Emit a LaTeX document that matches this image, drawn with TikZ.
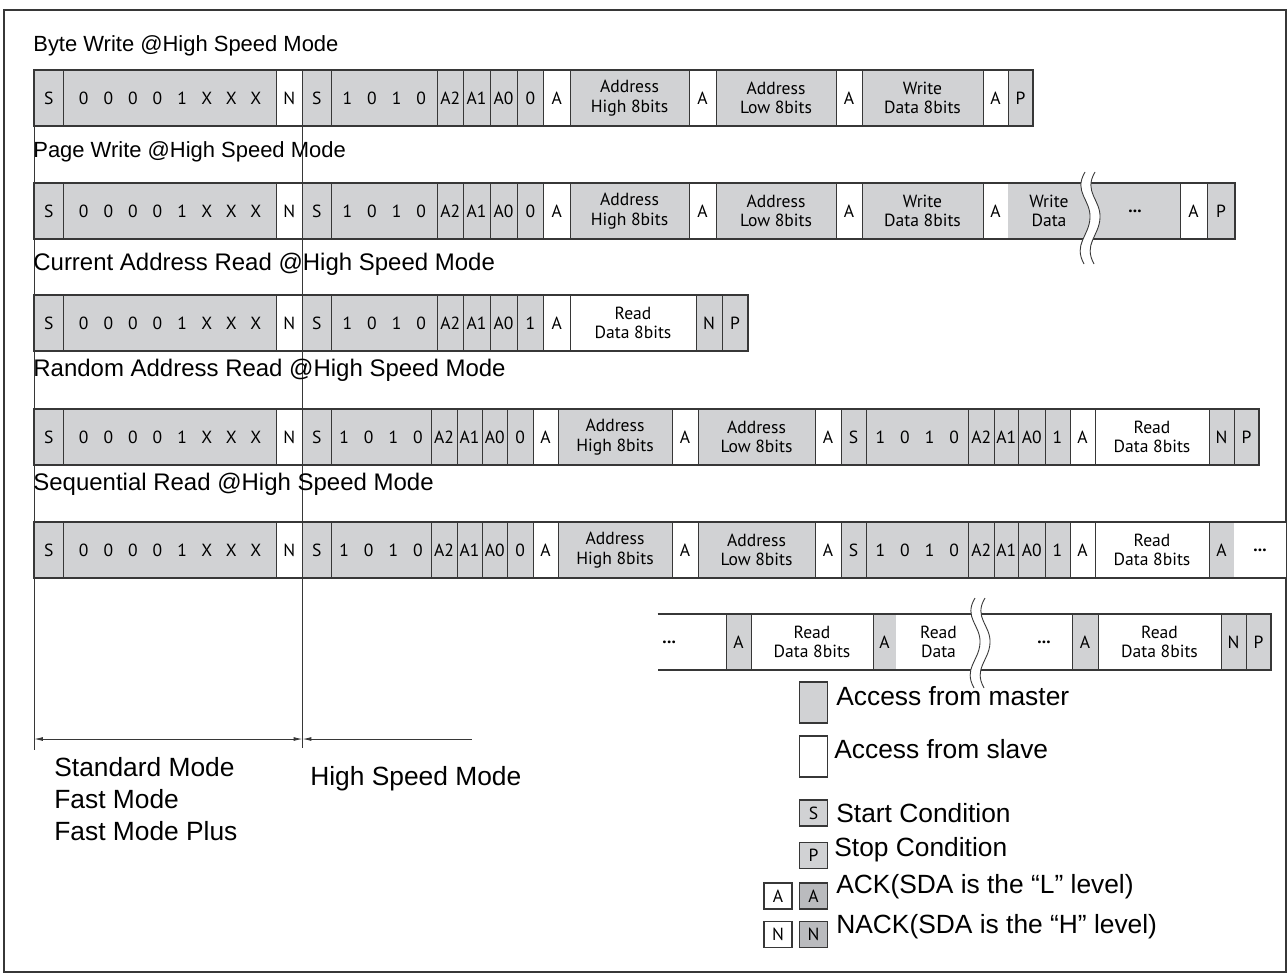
\documentclass[tikz,border=0pt]{standalone}
\usepackage{fontspec}
\setmainfont{Liberation Sans}
\newfontfamily\cellfont{PT Sans}
\usetikzlibrary{arrows.meta}

\definecolor{mgray}{RGB}{209,210,212}
\definecolor{dgray}{RGB}{186,187,190}
\definecolor{edge}{RGB}{55,55,55}

\tikzset{
  cell/.style={draw=edge, line width=0.45pt, inner sep=0pt, minimum height=56*0.02cm,
    align=center, font=\cellfont\fontsize{10}{11}\selectfont},
  mst/.style={fill=mgray}, slv/.style={fill=white},
  mstx/.style={fill=mgray, draw=none}, slvx/.style={fill=white, draw=none},
  barline/.style={draw=edge, line width=1.1pt},
  title/.style={anchor=west, inner sep=0pt, font=\fontsize{12.5}{15}\selectfont},
  wtitle/.style={title, font=\fontsize{13.65}{16}\selectfont},
  label/.style={anchor=west, inner sep=0pt, align=left, font=\fontsize{15}{18.2}\selectfont},
  keybox/.style={draw=edge, line width=0.8pt, inner sep=0pt, minimum width=28*0.02cm,
    minimum height=26*0.02cm, font=\cellfont\fontsize{10}{11}\selectfont},
}

\newcommand\bits[1]{\foreach \c in {#1}{\makebox[14pt]{\c}}}
% one frame of cells: name, top, list of xstart/xend/style/text
\newcommand\msgrow[3]{%
  \foreach \xa/\xb/\fc/\txt [count=\k] in {#3}
    \node[cell, \fc, minimum width={(\xb-\xa)*0.02cm}] (#1-\k) at ({(\xa+\xb)/2}, #2+28) {\txt};
}
% broken-bar mark: x, top, height
\newcommand\cut[3]{%
  \begin{scope}[shift={(#1,#2)}, yscale=#3/100]
    \fill[white] (4,0) .. controls (-8,22) and (10,30) .. (9,50) .. controls (8,70) and (-8,78) .. (3,100)
      -- (13,100) .. controls (2,78) and (18,70) .. (19,50) .. controls (20,30) and (2,22) .. (14,0) -- cycle;
    \draw[edge, line width=0.5pt] (4,0) .. controls (-8,22) and (10,30) .. (9,50) .. controls (8,70) and (-8,78) .. (3,100);
    \draw[edge, line width=0.5pt] (14,0) .. controls (2,22) and (20,30) .. (19,50) .. controls (18,70) and (2,78) .. (13,100);
  \end{scope}}

\begin{document}
\begin{tikzpicture}[x=0.02cm, y=-0.02cm]
  \useasboundingbox (0,0) rectangle (1287,978);
  \draw[edge, line width=0.85pt] (4,10) rectangle (1286,972);

  % mode borders, under the frames
  \coordinate (stdtop) at (34,127);
  \coordinate (stdbot) at (34,750);
  \coordinate (hstop) at (302.5,127);
  \coordinate (hsbot) at (302.5,748);
  \coordinate (hsend) at (472,739);
  \draw[edge, line width=0.5pt] (stdtop) -- (stdbot);
  \draw[edge, line width=0.5pt] (hstop) -- (hsbot);

  \node[title] (t1) at (33,46) {Byte Write @High Speed Mode};
  \node[title] (t2) at (33,152) {Page Write @High Speed Mode};
  \node[wtitle] (t3) at (33,264) {Current Address Read @High Speed Mode};
  \node[wtitle] (t4) at (33,370) {Random Address Read @High Speed Mode};
  \node[wtitle] (t5) at (33,484) {Sequential Read @High Speed Mode};

  % byte write
  \msgrow{r1}{70}{34/63.6/mst/S, 63.6/276/mst/{\bits{0,0,0,0,1,X,X,X}}, 276/302.5/slv/N, 302.5/331/mst/S,
    331/437.5/mst/{\bits{1,0,1,0}}, 437.5/463/mst/A2, 463/490/mst/A1, 490/517/mst/A0, 517/543.6/mst/0,
    543.6/570/slv/A, 570/689/mst/{Address\\High 8bits}, 689/716/slv/A, 716/836/mst/{Address\\Low 8bits},
    836/862/slv/A, 862/983/mst/{Write\\Data 8bits}, 983/1008/slv/A, 1008/1033/mst/P}
  \draw[barline] (r1-1.north west) rectangle (r1-17.south east);

  % page write
  \msgrow{r2}{183}{34/63.6/mst/S, 63.6/276/mst/{\bits{0,0,0,0,1,X,X,X}}, 276/302.5/slv/N, 302.5/331/mst/S,
    331/437.5/mst/{\bits{1,0,1,0}}, 437.5/463/mst/A2, 463/490/mst/A1, 490/517/mst/A0, 517/543.6/mst/0,
    543.6/570/slv/A, 570/689/mst/{Address\\High 8bits}, 689/716/slv/A, 716/836/mst/{Address\\Low 8bits},
    836/862/slv/A, 862/983/mst/{Write\\Data 8bits}, 983/1008/slv/A, 1008/1090/mstx/{Write\\Data},
    1090/1180/mstx/{\textbf{...}}, 1180/1207/slv/A, 1207/1235/mst/P}
  \draw[barline] (r2-1.north west) rectangle (r2-20.south east);
  \cut{1081}{172}{92}

  % current address read
  \msgrow{r3}{295}{34/63.6/mst/S, 63.6/276/mst/{\bits{0,0,0,0,1,X,X,X}}, 276/302.5/slv/N, 302.5/331/mst/S,
    331/437.5/mst/{\bits{1,0,1,0}}, 437.5/463/mst/A2, 463/490/mst/A1, 490/517/mst/A0, 517/543.6/mst/1,
    543.6/570/slv/A, 570/696/slv/{Read\\Data 8bits}, 696/722/mst/N, 722/748/mst/P}
  \draw[barline] (r3-1.north west) rectangle (r3-13.south east);

  % random address read
  \msgrow{r4}{409}{34/63.6/mst/S, 63.6/276/mst/{\bits{0,0,0,0,1,X,X,X}}, 276/302.5/slv/N, 302.5/331/mst/S,
    331/431/mst/{\bits{1,0,1,0}}, 431/457/mst/A2, 457/482/mst/A1, 482/507.5/mst/A0, 507.5/533/mst/0,
    533/558/slv/A, 558/672/mst/{Address\\High 8bits}, 672/698/slv/A, 698/815/mst/{Address\\Low 8bits},
    815/841/slv/A, 841/866/mst/S, 866/968.6/mst/{\bits{1,0,1,0}}, 968.6/994/mst/A2, 994/1018.6/mst/A1,
    1018.6/1045/mst/A0, 1045/1070/mst/1, 1070/1095/slv/A, 1095/1209/slv/{Read\\Data 8bits},
    1209/1234/mst/N, 1234/1259/mst/P}
  \draw[barline] (r4-1.north west) rectangle (r4-24.south east);

  % sequential read
  \msgrow{r5}{522}{34/63.6/mst/S, 63.6/276/mst/{\bits{0,0,0,0,1,X,X,X}}, 276/302.5/slv/N, 302.5/331/mst/S,
    331/431/mst/{\bits{1,0,1,0}}, 431/457/mst/A2, 457/482/mst/A1, 482/507.5/mst/A0, 507.5/533/mst/0,
    533/558/slv/A, 558/672/mst/{Address\\High 8bits}, 672/698/slv/A, 698/815/mst/{Address\\Low 8bits},
    815/841/slv/A, 841/866/mst/S, 866/968.6/mst/{\bits{1,0,1,0}}, 968.6/994/mst/A2, 994/1018.6/mst/A1,
    1018.6/1045/mst/A0, 1045/1070/mst/1, 1070/1095/slv/A, 1095/1209/slv/{Read\\Data 8bits},
    1209/1234/mst/A, 1234/1286/slvx/{\textbf{...}}}
  \draw[barline] (r5-24.north east) -- (r5-1.north west) -- (r5-1.south west) -- (r5-24.south east);

  \msgrow{r6}{614}{658/726/slvx/{\textbf{...}\hspace*{26pt}}, 726/751/mst/A, 751/873/slv/{Read\\Data 8bits}, 873/896/mst/A,
    896/981/slvx/{Read\\Data}, 981/1072/slvx/{\hspace*{20pt}\textbf{...}}, 1072/1098/mst/A,
    1098/1221/slv/{Read\\Data 8bits}, 1221/1246/mst/N, 1246/1271/mst/P}
  \draw[barline] (r6-1.north west) -- (r6-10.north east) -- (r6-10.south east) -- (r6-1.south west);
  \cut{971}{598}{90}

  % modes
  \draw[edge, line width=0.5pt, {Latex[length=5pt,width=2.2pt]}-{Latex[length=5pt,width=2.2pt]}]
    (stdtop |- hsend) -- (hstop |- hsend);
  \draw[edge, line width=0.5pt, {Latex[length=5pt,width=2.2pt]}-] (hstop |- hsend) -- (hsend);
  \node[label] (std) at (54,799) {Standard Mode\\Fast Mode\\Fast Mode Plus};
  \node[label] (hs) at (310,779) {High Speed Mode};

  % legend
  \node[keybox, fill=mgray, minimum height=41*0.02cm] (kmst) at (813.5,702.5) {};
  \node[label] (lmst) at (836,696) {Access from master};
  \node[keybox, fill=white, minimum height=41*0.02cm] (kslv) at (813.5,756.5) {};
  \node[label] (lslv) at (834,749) {Access from slave};
  \node[keybox, fill=mgray] (ks) at (813.5,813) {S};
  \node[label] (ls) at (836,813) {Start Condition};
  \node[keybox, fill=mgray] (kp) at (813.5,855.5) {P};
  \node[label] (lp) at (834,850) {Stop Condition};
  \node[keybox, fill=white] (kaw) at (778,896) {A};
  \node[keybox, fill=dgray] (kam) at (813.5,896) {A};
  \node[label] (la) at (836,887) {ACK(SDA is the “L” level)};
  \node[keybox, fill=white] (knw) at (778,934.5) {N};
  \node[keybox, fill=dgray] (knm) at (813.5,934.5) {N};
  \node[label] (ln) at (836,927) {NACK(SDA is the “H” level)};
\end{tikzpicture}
\end{document}
